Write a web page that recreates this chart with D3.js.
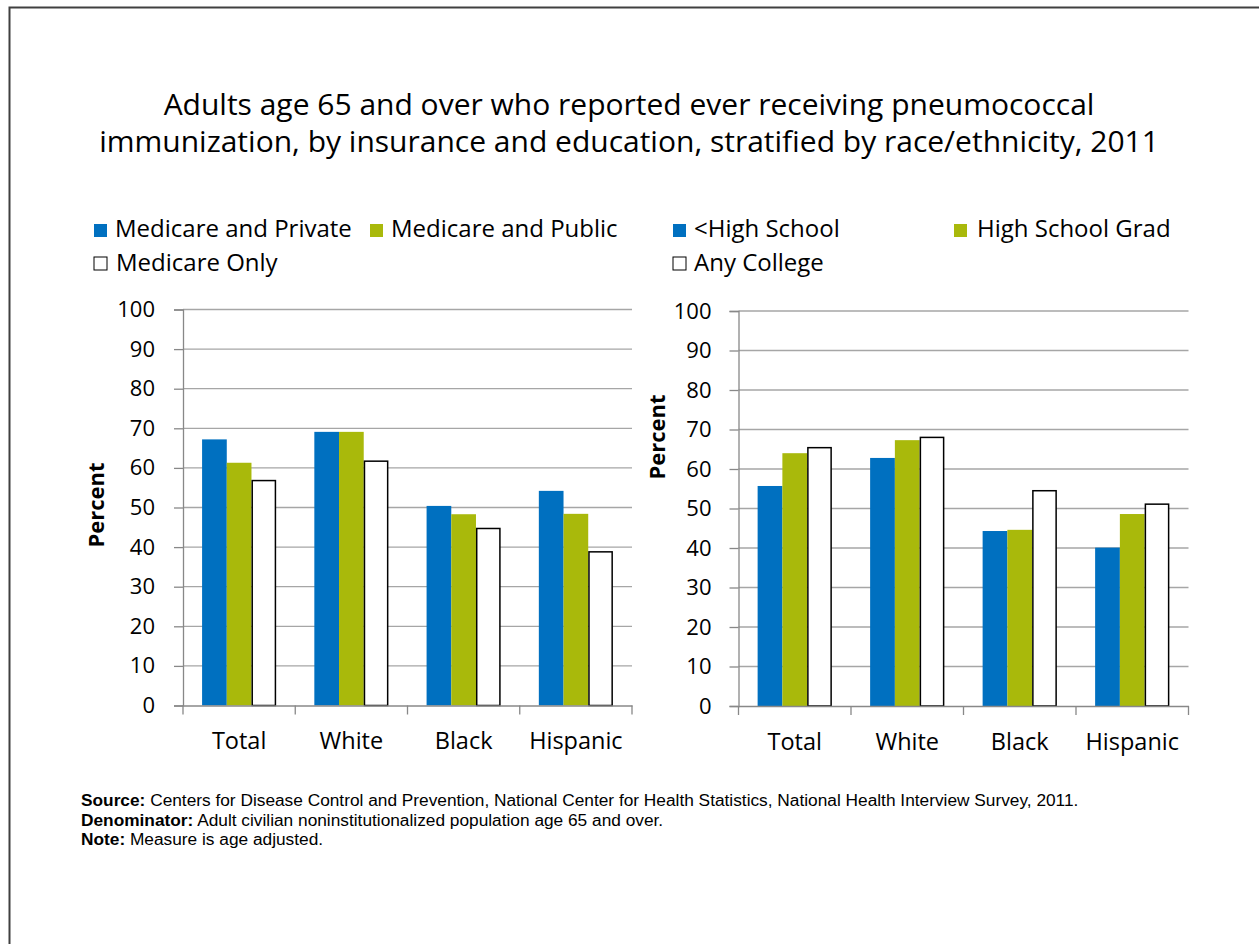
<!DOCTYPE html>
<html>
<head>
<meta charset="utf-8">
<script src="https://cdn.jsdelivr.net/npm/d3@7"></script>
<style>
html,body{margin:0;padding:0;background:#fff;}
svg{display:block;}
</style>
</head>
<body>
<script>
const categories = ["Total", "White", "Black", "Hispanic"];
const insuranceSeries = ["Medicare and Private", "Medicare and Public", "Medicare Only"];
const insuranceValues = [
  [67.2, 69.1, 50.4, 54.2],
  [61.3, 69.1, 48.3, 48.4],
  [56.8, 61.7, 44.7, 38.8]
];
const educationSeries = ["<High School", "High School Grad", "Any College"];
const educationValues = [
  [55.7, 62.8, 44.3, 40.1],
  [64.0, 67.3, 44.6, 48.6],
  [65.4, 68.0, 54.5, 51.1]
];
const yTicks = [0, 10, 20, 30, 40, 50, 60, 70, 80, 90, 100];
const titleLines = [
  "Adults age 65 and over who reported ever receiving pneumococcal",
  "immunization, by insurance and education, stratified by race/ethnicity, 2011"
];
const notes = [
  ["Source:", " Centers for Disease Control and Prevention, National Center for Health Statistics, National Health Interview Survey, 2011."],
  ["Denominator:", " Adult civilian noninstitutionalized population age 65 and over."],
  ["Note:", " Measure is age adjusted."]
];

const W = 1259, H = 944;
const FONT = "'Open Sans', Carlito, Calibri, sans-serif";
const fills = ["#0070C0", "#A9B90B", "#FFFFFF"];
const strokes = ["none", "none", "#000000"];

const svg = d3.select("body").append("svg").attr("width", W).attr("height", H);
svg.append("rect").attr("width", W).attr("height", H).attr("fill", "#fff");
svg.append("rect").attr("x", 9.5).attr("y", 7.5).attr("width", W + 10).attr("height", H + 10)
  .attr("fill", "none").attr("stroke", "#404040").attr("stroke-width", 2);

// title
svg.append("g").selectAll("text").data(titleLines).join("text")
  .attr("x", 629).attr("y", (d, i) => 115 + i * 37)
  .attr("text-anchor", "middle")
  .attr("font-family", FONT).attr("font-size", 30).attr("fill", "#000")
  .text(d => d);

function drawChart(cfg) {
  const g = svg.append("g");
  const y = d3.scaleLinear().domain([0, 100]).range([cfg.y0, cfg.y1]);
  const x0 = d3.scaleBand().domain(categories).range([cfg.xL, cfg.xR])
    .paddingInner(0.34).paddingOuter(0.17);
  const x1 = d3.scaleBand().domain(d3.range(cfg.series.length)).range([0, x0.bandwidth()]);

  // gridlines
  g.append("g").selectAll("line").data(yTicks.filter(t => t > 0)).join("line")
    .attr("x1", cfg.xL).attr("x2", cfg.xR)
    .attr("y1", d => y(d)).attr("y2", d => y(d))
    .attr("stroke", "#A6A6A6").attr("stroke-width", 1.3);

  // bars
  cfg.series.forEach((s, si) => {
    g.append("g").selectAll("rect").data(cfg.values[si]).join("rect")
      .attr("x", (d, i) => x0(categories[i]) + x1(si) + (si === 2 ? 0.75 : 0))
      .attr("y", d => y(d))
      .attr("width", x1.bandwidth() - (si === 2 ? 1.5 : 0))
      .attr("height", d => y(0) - y(d))
      .attr("fill", fills[si])
      .attr("stroke", strokes[si]).attr("stroke-width", 1.5);
  });

  // y axis
  const yAxis = d3.axisLeft(y).tickValues(yTicks).tickSize(9).tickPadding(cfg.yPad).tickFormat(d3.format("d"));
  const ya = g.append("g").attr("transform", `translate(${cfg.xL},0)`).call(yAxis);
  ya.select(".domain").attr("stroke", "#888").attr("stroke-width", 1.3);
  ya.selectAll(".tick line").attr("stroke", "#888").attr("stroke-width", 1.3);
  ya.selectAll("text").attr("font-family", FONT).attr("font-size", 22).attr("fill", "#000");

  // x axis
  const xb = d3.scaleBand().domain(categories).range([cfg.xL, cfg.xR]);
  const xAxis = d3.axisBottom(xb).tickSize(0).tickPadding(27);
  const xa = g.append("g").attr("transform", `translate(0,${cfg.y0})`).call(xAxis);
  xa.select(".domain").attr("stroke", "#888").attr("stroke-width", 1.3);
  xa.selectAll("text").attr("font-family", FONT).attr("font-size", 23.5).attr("fill", "#000");
  const bounds = categories.map(c => xb(c)).concat([cfg.xR]);
  xa.append("g").selectAll("line").data(bounds).join("line")
    .attr("x1", d => d).attr("x2", d => d).attr("y1", 0).attr("y2", 9)
    .attr("stroke", "#888").attr("stroke-width", 1.3);

  // y title
  g.append("text")
    .attr("transform", `translate(${cfg.ytx},${cfg.yty}) rotate(-90)`)
    .attr("text-anchor", "middle")
    .attr("font-family", FONT).attr("font-size", 22).attr("font-weight", "bold")
    .text("Percent");

  // legend
  const lg = g.append("g");
  cfg.series.forEach((s, si) => {
    const p = cfg.legendPos[si];
    lg.append("rect").attr("x", p[0]).attr("y", p[1]).attr("width", 13).attr("height", 13)
      .attr("fill", fills[si]).attr("stroke", si === 2 ? "#000" : "none").attr("stroke-width", 1);
    lg.append("text").attr("x", p[2]).attr("y", p[3])
      .attr("font-family", FONT).attr("font-size", 24).attr("fill", "#000").text(s);
  });
}

drawChart({
  series: insuranceSeries, values: insuranceValues,
  xL: 183, xR: 632, y0: 705.5, y1: 309.5, yPad: 19,
  ytx: 104, yty: 505,
  legendPos: [[94, 224, 115, 237], [370, 224, 391, 237], [94, 257, 116, 271]]
});
drawChart({
  series: educationSeries, values: educationValues,
  xL: 738.5, xR: 1188.5, y0: 706, y1: 311, yPad: 18,
  ytx: 665, yty: 437,
  legendPos: [[673, 224, 694, 237], [954, 224, 977, 237], [673, 257, 694, 271]]
});

// notes
const ng = svg.append("g");
notes.forEach((n, i) => {
  const t = ng.append("text").attr("x", 81).attr("y", 806 + i * 19.5)
    .attr("font-family", "'Liberation Sans', Arial, sans-serif").attr("font-size", 17.3).attr("fill", "#000");
  t.append("tspan").attr("font-weight", "bold").text(n[0]);
  t.append("tspan").text(n[1]);
});
</script>
</body>
</html>
